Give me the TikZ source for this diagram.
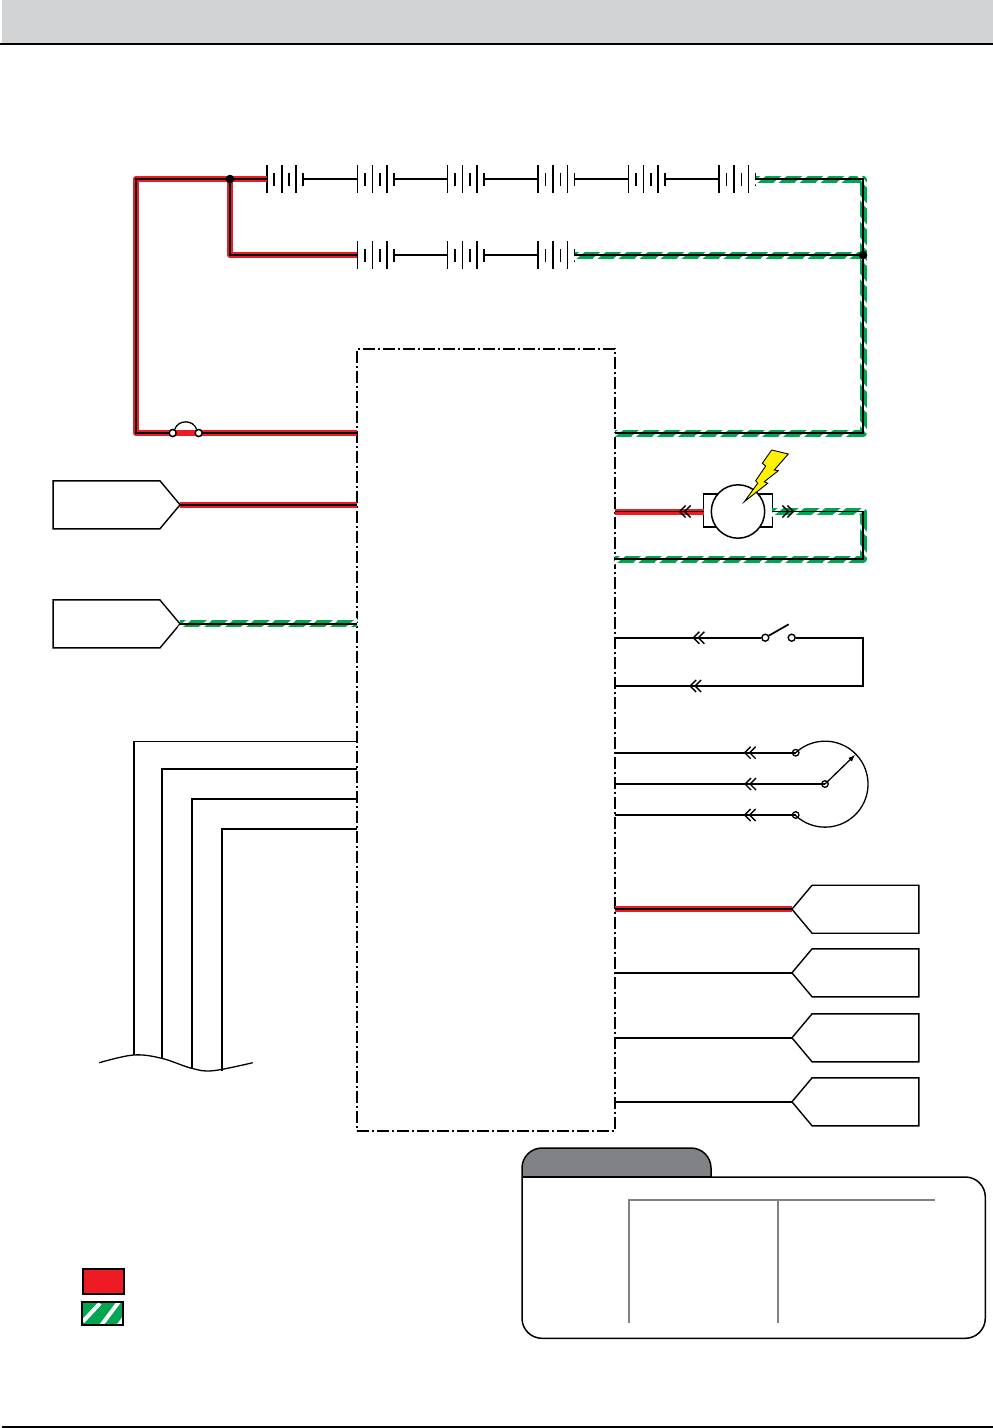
\documentclass[tikz,border=0pt]{standalone}
\usepackage{tikz}
\usetikzlibrary{decorations.markings}
\usetikzlibrary{shapes.symbols}

\definecolor{wirered}{RGB}{237,28,36}
\definecolor{wiregreen}{RGB}{0,166,81}
\definecolor{headgrey}{RGB}{209,211,212}
\definecolor{tabgrey}{RGB}{128,130,133}
\definecolor{boltyellow}{RGB}{255,242,0}

\tikzset{
    core/.style={line width=1.8pt},
    thinwire/.style={line width=1.7pt},
    redband/.style={draw=wirered, line width=6pt, line join=round},
    redwire/.style={core, preaction={redband}},
    greenwire/.style={line width=1.6pt, preaction={draw=wiregreen, line width=7pt, line join=round},
        preaction={decorate, decoration={markings,
            mark=between positions 4pt and -1pt step 21pt with
                {\draw [white, line width=3.2pt] (-5.5pt, -4.5pt) -- (5.5pt, 4.5pt);}}}},
    chev/.style={postaction={decorate, decoration={markings,
        mark=at position #1 with
            {\draw [black, line width=1.4pt] (-6pt, 6pt) -- (0pt, 0pt) -- (-6pt, -6pt)
                (-11pt, 6pt) -- (-5pt, 0pt) -- (-11pt, -6pt);}}}},
    term/.style={circle, draw, fill=white, line width=1.4pt, inner sep=0pt, minimum size=7pt},
    tagright/.style={signal, signal to=east, draw, line width=1.4pt, inner sep=0pt, outer sep=0pt,
        minimum width=127pt, minimum height=48pt, signal pointer angle=100},
    tagleft/.style={tagright, signal to=west},
    batt/.pic={
        \draw [line width=1.6pt] (0, -14) -- (0, 14) (7.5, -6.5) -- (7.5, 6.5)
            (15, -14) -- (15, 14) (22.5, -6.5) -- (22.5, 6.5)
            (29.5, -14) -- (29.5, 14) (36.5, -6.5) -- (36.5, 6.5);
        \coordinate (-in) at (0, 0);
        \coordinate (-out) at (36.5, 0);
    }
}

\begin{document}
\begin{tikzpicture}[x=1pt, y=-1pt]
    \useasboundingbox (0, 0) rectangle (993, 1428);
    % page header and footer
    \fill [headgrey] (2, 0) rectangle (993, 43);
    \draw [line width=2pt] (0, 43.8) to (993, 43.8);
    \draw [line width=2pt] (2, 1427) to (993, 1427);
    % control box
    \node [draw, line width=1.5pt, dash pattern=on 12pt off 3pt on 2pt off 3pt,
        minimum width=258pt, minimum height=782pt, inner sep=0pt, outer sep=0pt] (ecu) at (486, 740) {};
    % battery strings
    \foreach \name/\posx in {a1/266.7, a2/357.3, a3/447.5, a4/538, a5/628.5, a6/719}
        \pic (\name) at (\posx, 179) {batt};
    \foreach \name/\posx in {c1/357.3, c2/447.5, c3/538}
        \pic (\name) at (\posx, 255) {batt};
    \foreach \from/\to in {a1/a2, a2/a3, a3/a4, a4/a5, a5/a6, c1/c2, c2/c3}
        \draw [thinwire] (\from-out) to (\to-in);
    \coordinate (topleft) at (135.7, 179);
    \coordinate (botleft) at (135.7, 433);
    \coordinate (ecuplus) at (357, 433);
    \coordinate (ecuminus) at (615, 433);
    \coordinate (topright) at (863, 179);
    \coordinate (botright) at (863, 433);
    \coordinate (midleft) at (230, 255);
    \coordinate (midright) at (863, 255);
    \node [term] (fuse1) at (172.7, 433) {};
    \node [term] (fuse2) at (198.7, 433) {};
    \coordinate (splitplus) at (230, 179);
    % positive rail with fuse
    \draw [redband] (a1-in) to (topleft) to (botleft) to (ecuplus);
    \draw [core] (a1-in) to (topleft) to (botleft) to (fuse1.west) (fuse2.east) to (ecuplus);
    \draw [redwire] (splitplus) to (midleft) to (c1-in);
    \node [term] at (fuse1) {};
    \node [term] at (fuse2) {};
    \draw [line width=1.3pt] (fuse1.60) .. controls +(3, -10) and +(-3, -10) .. (fuse2.120);
    % negative rail
    \draw [greenwire] (a6-out) to (topright) to (midright);
    \draw [greenwire] (midright) to (botright) to (ecuminus);
    \draw [greenwire] (c3-out) to (midright);
    \fill (splitplus) circle (4.3pt);
    \fill (midright) circle (4.3pt);
    % left connectors
    \node [tagright] (pack) at (106.5, 504.8) {};
    \node [tagright] (gnd) at (106.5, 623.9) {};
    \draw [redwire] (pack.east) to (pack.east -| ecu.west);
    \draw [greenwire] (gnd.east) to (gnd.east -| ecu.west);
    % motor
    \node [draw, line width=1.5pt, inner sep=0pt, outer sep=0pt, minimum width=68.6pt, minimum height=33pt] (motbody) at (738, 510.5) {};
    \node [circle, draw, fill=white, line width=1.5pt, inner sep=0pt, outer sep=0pt, minimum size=53.4pt] (motor) at (738, 511.5) {};
    \coordinate (motleft) at (615, 511.5);
    \coordinate (motcorner) at (863, 511.5);
    \coordinate (motlow) at (863, 559);
    \coordinate (motback) at (615, 559);
    \draw [redwire, chev=24pt] (motbody.west |- motor.center) to (motleft);
    \draw [greenwire, chev=21pt] (motbody.east |- motor.center) to (motcorner) to (motlow) to (motback);
    \draw [fill=boltyellow, line width=0.9pt] (771.7, 450) -- (788.3, 454) -- (774.3, 470) -- (778.3, 470.7)
        -- (764.3, 481.7) -- (767.7, 483.3) -- (744.3, 501.7) -- (757.7, 483.3) -- (755.7, 480.7)
        -- (765.7, 466) -- (762.3, 463.3) -- cycle;
    % switch
    \node [term] (sw1) at (765.3, 637.7) {};
    \node [term] (sw2) at (791.7, 637.7) {};
    \coordinate (swcorner) at (863, 637.7);
    \coordinate (swlow) at (863, 686);
    \coordinate (swback) at (615, 686);
    \coordinate (swin) at (615, 637.7);
    \coordinate (blade) at (788.7, 624.3);
    \draw [thinwire, chev=67.7pt] (sw1.west) to (swin);
    \draw [thinwire, chev=288.3pt] (sw2.east) to (swcorner) to (swlow) to (swback);
    \draw [thinwire] (sw1.30) to (blade);
    % potentiometer
    \coordinate (potA) at (795.7, 752.7);
    \coordinate (potB) at (825, 784);
    \coordinate (potC) at (795.7, 815);
    \coordinate (wiper) at (855, 755);
    \coordinate (potAin) at (615, 752.7);
    \coordinate (potBin) at (615, 784);
    \coordinate (potCin) at (615, 815);
    \draw [thinwire, chev=51pt] (potA) to (potAin);
    \draw [thinwire, chev=80pt] (potB) to (potBin);
    \draw [thinwire, chev=51pt] (potC) to (potCin);
    \draw [line width=1.3pt] (potA) arc [start angle=227, end angle=493, radius=43];
    \draw [line width=1.3pt, -{latex}] (potB) to (wiper);
    \foreach \name in {potA, potB, potC}
        \draw [line width=1.3pt] (\name) circle (3.3);
    % right connectors
    \node [tagleft] (out1) at (865.5, 909.2) {};
    \node [tagleft] (out2) at (865.5, 972.8) {};
    \node [tagleft] (out3) at (865.5, 1037.8) {};
    \node [tagleft] (out4) at (865.5, 1101.8) {};
    \draw [redwire] (out1.west) to (out1.west -| ecu.east);
    \draw [thinwire] (out2.west) to (out2.west -| ecu.east);
    \draw [thinwire] (out3.west) to (out3.west -| ecu.east);
    \draw [thinwire] (out4.west) to (out4.west -| ecu.east);
    % cut bundle
    \coordinate (bus1) at (357, 741.5);
    \coordinate (bus2) at (357, 769);
    \coordinate (bus3) at (357, 799);
    \coordinate (bus4) at (357, 829);
    \coordinate (cut1) at (134, 1055);
    \coordinate (cut2) at (161.7, 1058.3);
    \coordinate (cut3) at (191.7, 1068.3);
    \coordinate (cut4) at (222, 1070.5);
    \draw [line width=1.1pt] (bus1) -| (cut1);
    \draw [line width=1.8pt] (bus2) -| (cut2);
    \draw [line width=1.8pt] (bus3) -| (cut3);
    \draw [line width=1.1pt] (bus4) -| (cut4);
    \draw [line width=1.3pt] plot [smooth, tension=0.6] coordinates {(99.3, 1062.7) (133.5, 1055) (161.7, 1058.3) (191.7, 1068.3) (213, 1070.7) (252.7, 1062.7)};
    % legend
    \draw [fill=wirered, line width=2pt] (82.7, 1269.3) rectangle (124, 1294);
    \begin{scope}
        \clip (82, 1301.7) rectangle (123.3, 1325.3);
        \fill [wiregreen] (82, 1301.7) rectangle (123.3, 1325.3);
        \draw [white, line width=4pt] (82.7, 1321.7) to (100, 1303.3);
        \draw [white, line width=4pt] (100, 1327) to (119.5, 1301);
        \draw [white, line width=4pt] (117.5, 1327) to (125, 1316.5);
    \end{scope}
    \draw [line width=2pt] (82, 1301.7) rectangle (123.3, 1325.3);
    % note panel
    \draw [fill=tabgrey, line width=1.5pt, rounded corners=20pt] (522, 1177) -- (522, 1148) -- (711, 1148) -- (711, 1177);
    \draw [line width=1.5pt, rounded corners=20pt] (711, 1177) -- (985.3, 1177) -- (985.3, 1338.3) -- (522, 1338.3) -- (522, 1177);
    \draw [line width=2pt] (522, 1177) to (711, 1177);
    \draw [tabgrey, line width=2pt] (629, 1322.7) -- (629, 1200) -- (935.3, 1200);
    \draw [tabgrey, line width=2pt] (778, 1200) to (778, 1322.7);
\end{tikzpicture}
\end{document}
